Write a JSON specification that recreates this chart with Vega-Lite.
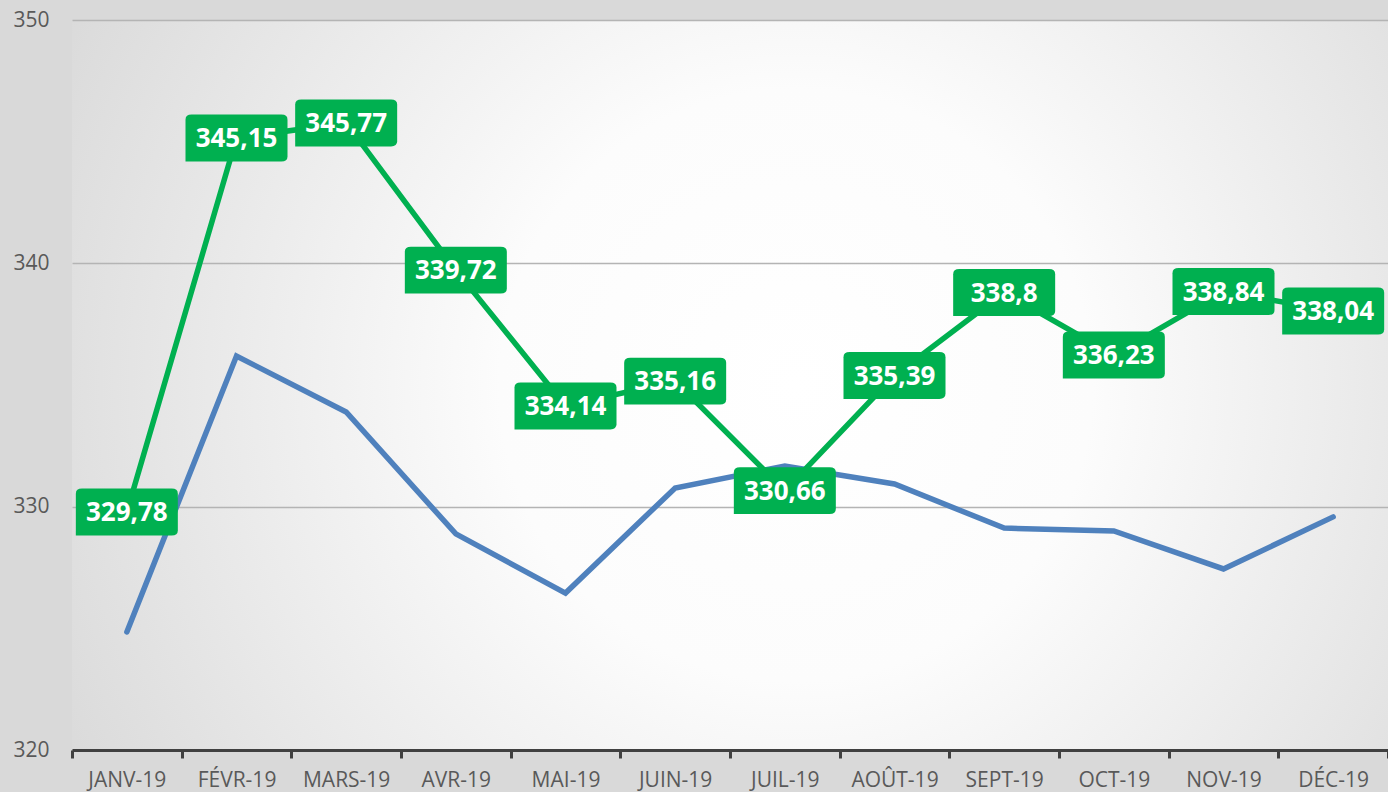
{
  "$schema": "https://vega.github.io/schema/vega-lite/v6.json",
  "width": 1316,
  "height": 730,
  "autosize": {"type": "none"},
  "padding": {"left": 72, "top": 20, "right": 0, "bottom": 42},
  "background": "#d9d9d9",
  "config": {
    "locale": {"number": {"decimal": ",", "thousands": "\u00a0", "grouping": [3], "currency": ["", " €"]}},
    "view": {
      "stroke": null,
      "fill": {"gradient": "radial", "x1": 0.55, "y1": 0.5, "x2": 0.55, "y2": 0.5, "r1": 0, "r2": 0.75,
        "stops": [{"offset": 0, "color": "#ffffff"}, {"offset": 0.3, "color": "#fcfcfc"}, {"offset": 1, "color": "#cfcfcf"}]}
    },
    "font": "Open Sans"
  },
  "data": {
    "values": [
      {"month": "JANV-19", "series": "A", "value": 324.85},
      {"month": "FÉVR-19", "series": "A", "value": 336.19},
      {"month": "MARS-19", "series": "A", "value": 333.89},
      {"month": "AVR-19", "series": "A", "value": 328.88},
      {"month": "MAI-19", "series": "A", "value": 326.45},
      {"month": "JUIN-19", "series": "A", "value": 330.77},
      {"month": "JUIL-19", "series": "A", "value": 331.67},
      {"month": "AOÛT-19", "series": "A", "value": 330.93},
      {"month": "SEPT-19", "series": "A", "value": 329.12},
      {"month": "OCT-19", "series": "A", "value": 329.0},
      {"month": "NOV-19", "series": "A", "value": 327.44},
      {"month": "DÉC-19", "series": "A", "value": 329.58},
      {"month": "JANV-19", "series": "B", "value": 329.78},
      {"month": "FÉVR-19", "series": "B", "value": 345.15},
      {"month": "MARS-19", "series": "B", "value": 345.77},
      {"month": "AVR-19", "series": "B", "value": 339.72},
      {"month": "MAI-19", "series": "B", "value": 334.14},
      {"month": "JUIN-19", "series": "B", "value": 335.16},
      {"month": "JUIL-19", "series": "B", "value": 330.66},
      {"month": "AOÛT-19", "series": "B", "value": 335.39},
      {"month": "SEPT-19", "series": "B", "value": 338.8},
      {"month": "OCT-19", "series": "B", "value": 336.23},
      {"month": "NOV-19", "series": "B", "value": 338.84},
      {"month": "DÉC-19", "series": "B", "value": 338.04}
    ]
  },
  "encoding": {
    "x": {
      "field": "month", "type": "ordinal", "sort": null, "bandPosition": 0.5,
      "scale": {"type": "band", "paddingInner": 0, "paddingOuter": 0},
      "axis": {
        "title": null, "labelAngle": 0, "tickBand": "extent",
        "domainColor": "#404040", "domainWidth": 3,
        "tickColor": "#404040", "tickWidth": 3, "tickSize": 8,
        "labelPadding": 11, "labelFont": "Open Sans", "labelFontSize": 21, "labelColor": "#595959"
      }
    },
    "y": {
      "field": "value", "type": "quantitative",
      "scale": {"domain": [320, 350], "nice": false, "zero": false},
      "axis": {
        "title": null, "values": [320, 330, 340, 350], "domain": false, "ticks": false,
        "grid": true, "gridColor": "#b4b4b4", "gridWidth": 1.5,
        "labelPadding": 23, "labelFont": "Open Sans", "labelFontSize": 21, "labelColor": "#595959"
      }
    }
  },
  "layer": [
    {
      "transform": [{"filter": "datum.series === 'A'"}],
      "mark": {"type": "line", "color": "#4f81bd", "strokeWidth": 5.5, "strokeCap": "round", "strokeJoin": "miter"}
    },
    {
      "transform": [{"filter": "datum.series === 'B'"}],
      "mark": {"type": "line", "color": "#00b050", "strokeWidth": 5.5, "strokeJoin": "miter"}
    },
    {
      "transform": [{"filter": "datum.series === 'B'"}],
      "mark": {
        "type": "point", "filled": true, "opacity": 1, "color": "#00b050", "size": 10404,
        "shape": "M-0.88,-0.46 H0.88 Q1,-0.46 1,-0.36 V0.36 Q1,0.46 0.88,0.46 H-1 V-0.36 Q-1,-0.46 -0.88,-0.46 Z"
      }
    },
    {
      "transform": [{"filter": "datum.series === 'B'"}],
      "mark": {"type": "text", "color": "#ffffff", "font": "Open Sans", "fontWeight": "bold", "fontSize": 26, "baseline": "middle", "align": "center", "dy": 1},
      "encoding": {"text": {"field": "value", "type": "quantitative", "format": ".5~r"}}
    }
  ]
}
